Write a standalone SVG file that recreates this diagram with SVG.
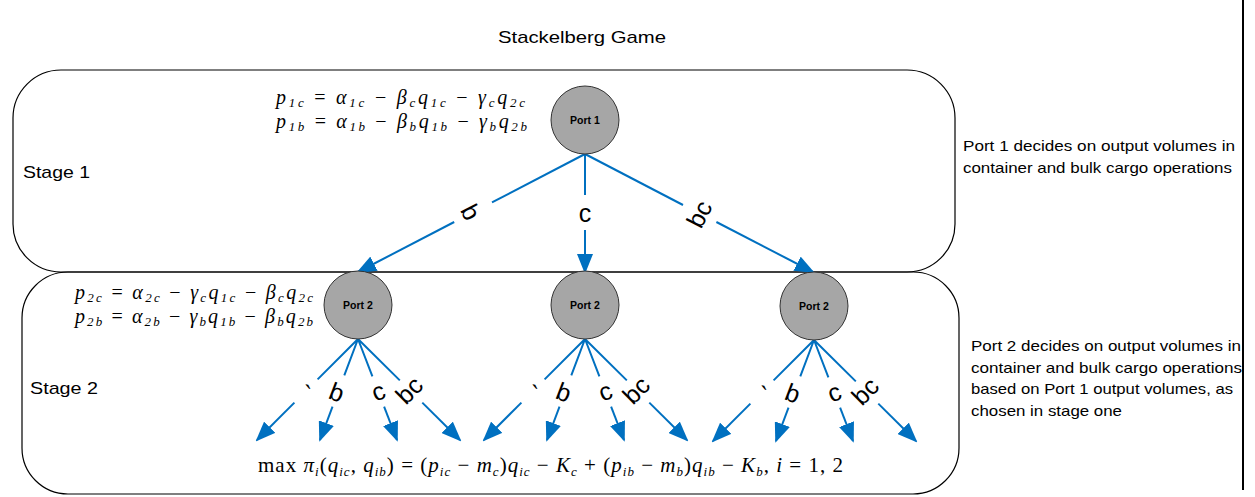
<svg xmlns="http://www.w3.org/2000/svg" width="1255" height="497" viewBox="0 0 1255 497">
<style>
.box{fill:none;stroke:#000;stroke-width:1.2}
.port{fill:#A6A6A6;stroke:#333;stroke-width:1}
.pl{font-family:"Liberation Sans",Arial,sans-serif;font-size:10.5px;font-weight:bold;fill:#000;text-anchor:middle}
.t{font-family:"Liberation Sans",Arial,sans-serif;font-size:17px;fill:#000}
.side{font-family:"Liberation Sans",Arial,sans-serif;font-size:15px;fill:#000}
.lab{font-family:"Liberation Sans",Arial,sans-serif;font-size:25px;fill:#000;text-anchor:middle;dominant-baseline:central}
.m{font-family:"Liberation Serif","Times New Roman",serif;font-size:20px;font-style:italic;fill:#000}
.s{font-size:13px}
.o{font-style:normal}
.c{fill:none;stroke:#0070C0;stroke-width:2}
.ca{fill:none;stroke:#0070C0;stroke-width:2;marker-end:url(#ah)}
</style>
<defs>
<marker id="ah" viewBox="0 0 20 16" refX="18" refY="8" markerWidth="20" markerHeight="16" markerUnits="userSpaceOnUse" orient="auto">
<path d="M0,0 L20,8 L0,16 z" fill="#0070C0"/>
</marker>
</defs>
<rect width="1255" height="497" fill="#fff"/>
<text class="t" x="582" y="43" text-anchor="middle" textLength="168" lengthAdjust="spacingAndGlyphs">Stackelberg Game</text>
<g id="stage1">
<rect class="box" x="13" y="70" width="942" height="202" rx="48" ry="48"/>
<text class="t" x="23" y="178" textLength="67" lengthAdjust="spacingAndGlyphs">Stage 1</text>
</g>
<g id="stage2">
<rect class="box" x="22" y="272" width="937" height="222" rx="46" ry="46"/>
<text class="t" x="30" y="394" textLength="68" lengthAdjust="spacingAndGlyphs">Stage 2</text>
</g>
<line x1="1243" y1="0" x2="1243" y2="490" stroke="#000" stroke-width="2"/>
<g id="connectors">
<path class="c" d="M585,154 L492,202.4"/>
<path class="ca" d="M454.2,222 L358,272"/>
<path class="c" d="M585,154 L585,195"/>
<path class="ca" d="M585,230 L585,272"/>
<path class="c" d="M585,154 L683,205"/>
<path class="ca" d="M716.4,222 L813,272"/>
<text class="lab" transform="translate(471,212) rotate(62.5)">b</text>
<text class="lab" transform="translate(585,213)">c</text>
<text class="lab" transform="translate(699,214) rotate(-62.5)">bc</text>
<g id="tree-left" transform="translate(358,339)">
<path class="c" d="M0,0 L-40.4,40.4 M0,0 L-13.7,36.4 M0,0 L14.4,37.4 M0,0 L41.8,41.4"/>
<path class="ca" d="M-63.6,63.6 L-101,101"/>
<path class="ca" d="M-25.5,67.7 L-38,101"/>
<path class="ca" d="M26.1,67.7 L39,101"/>
<path class="ca" d="M64.3,63.6 L102,101"/>
<text class="lab" transform="translate(-51,55) rotate(10)">`</text>
<text class="lab" transform="translate(-21,53) rotate(20.6)">b</text>
<text class="lab" transform="translate(20,52) rotate(-21)">c</text>
<text class="lab" transform="translate(51,51) rotate(-45)">bc</text>
</g>
<g id="tree-mid" transform="translate(585,339)">
<path class="c" d="M0,0 L-40.4,40.4 M0,0 L-13.7,36.4 M0,0 L14.4,37.4 M0,0 L41.8,41.4"/>
<path class="ca" d="M-63.6,63.6 L-101,101"/>
<path class="ca" d="M-25.5,67.7 L-38,101"/>
<path class="ca" d="M26.1,67.7 L39,101"/>
<path class="ca" d="M64.3,63.6 L102,101"/>
<text class="lab" transform="translate(-51,55) rotate(10)">`</text>
<text class="lab" transform="translate(-21,53) rotate(20.6)">b</text>
<text class="lab" transform="translate(20,52) rotate(-21)">c</text>
<text class="lab" transform="translate(51,51) rotate(-45)">bc</text>
</g>
<g id="tree-right" transform="translate(814,340)">
<path class="c" d="M0,0 L-40.4,40.4 M0,0 L-13.7,36.4 M0,0 L14.4,37.4 M0,0 L41.8,41.4"/>
<path class="ca" d="M-63.6,63.6 L-101,101"/>
<path class="ca" d="M-25.5,67.7 L-38,101"/>
<path class="ca" d="M26.1,67.7 L39,101"/>
<path class="ca" d="M64.3,63.6 L102,101"/>
<text class="lab" transform="translate(-51,55) rotate(10)">`</text>
<text class="lab" transform="translate(-21,53) rotate(20.6)">b</text>
<text class="lab" transform="translate(20,52) rotate(-21)">c</text>
<text class="lab" transform="translate(51,51) rotate(-45)">bc</text>
</g>
</g>
<g id="port1">
<circle class="port" cx="585" cy="120" r="34"/>
<text class="pl" x="585" y="124">Port 1</text>
</g>
<g id="port2-left">
<circle class="port" cx="358" cy="305" r="34"/>
<text class="pl" x="358" y="309">Port 2</text>
</g>
<g id="port2-mid">
<circle class="port" cx="585" cy="305" r="34"/>
<text class="pl" x="585" y="309">Port 2</text>
</g>
<g id="port2-right">
<circle class="port" cx="814" cy="306" r="34"/>
<text class="pl" x="814" y="310">Port 2</text>
</g>
<g id="eq-stage1">
<text class="m" x="276" y="104" textLength="249" lengthAdjust="spacing">p<tspan class="s" dy="3">1c</tspan><tspan class="o" dy="-3"> = </tspan>α<tspan class="s" dy="3">1c</tspan><tspan class="o" dy="-3"> − </tspan>β<tspan class="s" dy="3">c</tspan><tspan dy="-3">q</tspan><tspan class="s" dy="3">1c</tspan><tspan class="o" dy="-3"> − </tspan>γ<tspan class="s" dy="3">c</tspan><tspan dy="-3">q</tspan><tspan class="s" dy="3">2c</tspan></text>
<text class="m" x="276" y="128" textLength="251" lengthAdjust="spacing">p<tspan class="s" dy="3">1b</tspan><tspan class="o" dy="-3"> = </tspan>α<tspan class="s" dy="3">1b</tspan><tspan class="o" dy="-3"> − </tspan>β<tspan class="s" dy="3">b</tspan><tspan dy="-3">q</tspan><tspan class="s" dy="3">1b</tspan><tspan class="o" dy="-3"> − </tspan>γ<tspan class="s" dy="3">b</tspan><tspan dy="-3">q</tspan><tspan class="s" dy="3">2b</tspan></text>
</g>
<g id="eq-stage2">
<text class="m" x="75" y="299" textLength="238" lengthAdjust="spacing">p<tspan class="s" dy="3">2c</tspan><tspan class="o" dy="-3"> = </tspan>α<tspan class="s" dy="3">2c</tspan><tspan class="o" dy="-3"> − </tspan>γ<tspan class="s" dy="3">c</tspan><tspan dy="-3">q</tspan><tspan class="s" dy="3">1c</tspan><tspan class="o" dy="-3"> − </tspan>β<tspan class="s" dy="3">c</tspan><tspan dy="-3">q</tspan><tspan class="s" dy="3">2c</tspan></text>
<text class="m" x="75" y="323" textLength="238" lengthAdjust="spacing">p<tspan class="s" dy="3">2b</tspan><tspan class="o" dy="-3"> = </tspan>α<tspan class="s" dy="3">2b</tspan><tspan class="o" dy="-3"> − </tspan>γ<tspan class="s" dy="3">b</tspan><tspan dy="-3">q</tspan><tspan class="s" dy="3">1b</tspan><tspan class="o" dy="-3"> − </tspan>β<tspan class="s" dy="3">b</tspan><tspan dy="-3">q</tspan><tspan class="s" dy="3">2b</tspan></text>
</g>
<g id="eq-profit">
<text class="m" x="258" y="472" textLength="585" lengthAdjust="spacing" style="font-size:21px"><tspan class="o">max </tspan>π<tspan class="s" dy="4">i</tspan><tspan class="o" dy="-4">(</tspan>q<tspan class="s" dy="4">ic</tspan><tspan class="o" dy="-4">, </tspan>q<tspan class="s" dy="4">ib</tspan><tspan class="o" dy="-4">) = (</tspan>p<tspan class="s" dy="4">ic</tspan><tspan class="o" dy="-4"> − </tspan>m<tspan class="s" dy="4">c</tspan><tspan class="o" dy="-4">)</tspan>q<tspan class="s" dy="4">ic</tspan><tspan class="o" dy="-4"> − </tspan>K<tspan class="s" dy="4">c</tspan><tspan class="o" dy="-4"> + (</tspan>p<tspan class="s" dy="4">ib</tspan><tspan class="o" dy="-4"> − </tspan>m<tspan class="s" dy="4">b</tspan><tspan class="o" dy="-4">)</tspan>q<tspan class="s" dy="4">ib</tspan><tspan class="o" dy="-4"> − </tspan>K<tspan class="s" dy="4">b</tspan><tspan class="o" dy="-4">, </tspan>i<tspan class="o"> = 1, 2</tspan></text>
</g>
<g id="note-port1">
<text class="side" x="963" y="151" textLength="272" lengthAdjust="spacingAndGlyphs">Port 1 decides on output volumes in</text>
<text class="side" x="963" y="173" textLength="269" lengthAdjust="spacingAndGlyphs">container and bulk cargo operations</text>
</g>
<g id="note-port2">
<text class="side" x="971" y="351" textLength="270" lengthAdjust="spacingAndGlyphs">Port 2 decides on output volumes in</text>
<text class="side" x="971" y="373" textLength="271" lengthAdjust="spacingAndGlyphs">container and bulk cargo operations</text>
<text class="side" x="971" y="394" textLength="262" lengthAdjust="spacingAndGlyphs">based on Port 1 output volumes, as</text>
<text class="side" x="971" y="416" textLength="151" lengthAdjust="spacingAndGlyphs">chosen in stage one</text>
</g>
</svg>
